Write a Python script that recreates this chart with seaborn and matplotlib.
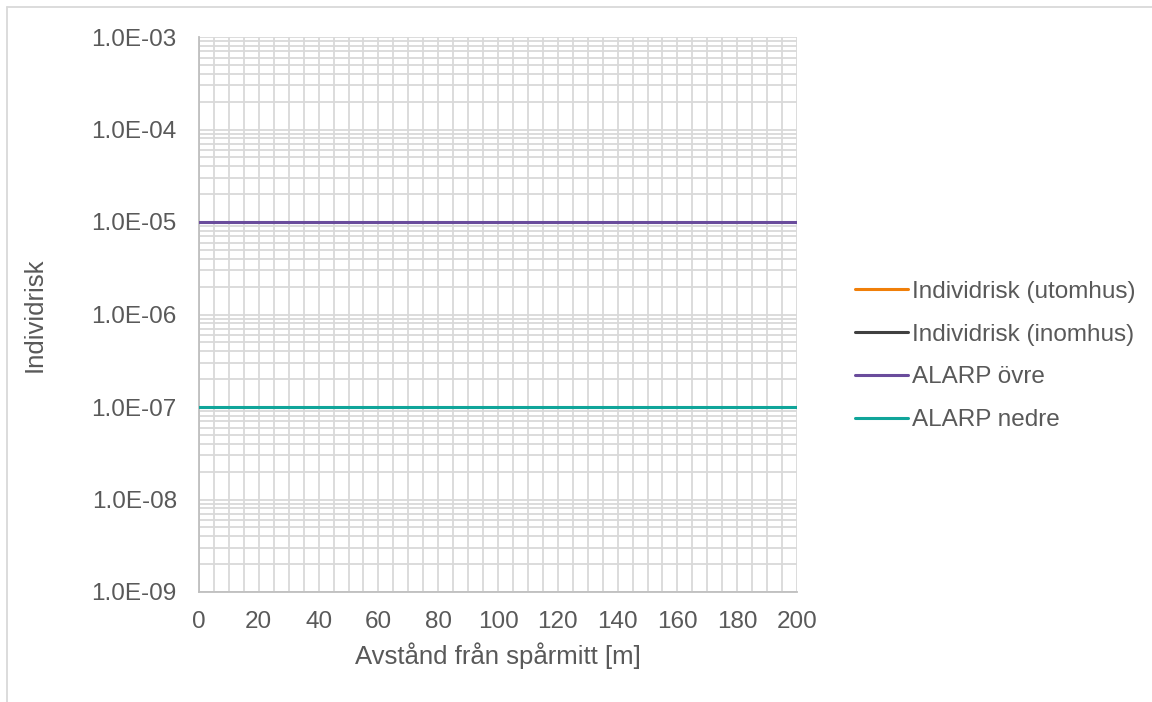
import numpy as np
import pandas as pd
import matplotlib
matplotlib.use("Agg")
import matplotlib.pyplot as plt
import seaborn as sns
from matplotlib.lines import Line2D
from matplotlib.ticker import FuncFormatter, MultipleLocator, LogLocator

# Data
series_names = ["Individrisk (utomhus)", "Individrisk (inomhus)", "ALARP övre", "ALARP nedre"]
series_colors = ["#F07F09", "#404040", "#6A4C9C", "#10A59A"]
distance = [0, 200]
alarp_upper = [1e-5, 1e-5]
alarp_lower = [1e-7, 1e-7]
# the two Individrisk series are not visible in the chart range
utomhus = []
inomhus = []

df = pd.DataFrame({
    "x": distance + distance,
    "y": alarp_upper + alarp_lower,
    "serie": ["ALARP övre"] * 2 + ["ALARP nedre"] * 2,
})

sns.set_style("white")
plt.rcParams["font.family"] = ["Liberation Sans", "DejaVu Sans"]
text_col = "#595959"
grid_col = "#D9D9D9"

fig = plt.figure(figsize=(11.52, 7.02), dpi=100)
ax = fig.add_axes([199 / 1152, 1 - 592 / 702, 598 / 1152, 555 / 702])

ax.plot(utomhus, utomhus, color=series_colors[0], lw=2.2)
ax.plot(inomhus, inomhus, color=series_colors[1], lw=2.2)
sns.lineplot(data=df, x="x", y="y", hue="serie",
             palette={"ALARP övre": series_colors[2], "ALARP nedre": series_colors[3]},
             lw=2.2, legend=False, ax=ax, zorder=3)

ax.set_yscale("log")
ax.set_ylim(1e-9, 1e-3)
ax.set_xlim(0, 200)
ax.xaxis.set_major_locator(MultipleLocator(20))
ax.xaxis.set_minor_locator(MultipleLocator(5))
ax.yaxis.set_major_locator(LogLocator(base=10, numticks=10))
ax.yaxis.set_minor_locator(LogLocator(base=10, subs=np.arange(2, 10), numticks=100))
ax.yaxis.set_major_formatter(FuncFormatter(lambda v, p: "{:.1E}".format(v)))
ax.yaxis.set_minor_formatter(FuncFormatter(lambda v, p: ""))

ax.grid(True, which="both", color=grid_col, lw=1.3)
ax.set_axisbelow(True)
ax.tick_params(which="both", length=0, labelsize=17.5, colors=text_col)
ax.tick_params(axis="x", pad=14)
ax.tick_params(axis="y", pad=16)
for s in ["top", "right"]:
    ax.spines[s].set_visible(False)
for s in ["left", "bottom"]:
    ax.spines[s].set_color("#BFBFBF")
    ax.spines[s].set_linewidth(1.3)

ax.set_xlabel("Avstånd från spårmitt [m]", fontsize=18.5, color=text_col, va="center")
ax.set_ylabel("Individrisk", fontsize=18.5, color=text_col, va="center")
ax.xaxis.set_label_coords(0.5, (592 - 656) / 555)
ax.yaxis.set_label_coords((35 - 199) / 598, 0.5)

handles = [Line2D([], [], color=c, lw=2.2) for c in series_colors]
leg = fig.legend(handles, series_names, loc="center left",
                 bbox_to_anchor=(855 / 1152, 1 - 356 / 702), borderaxespad=0, borderpad=0,
                 frameon=False, fontsize=17.5, handlelength=2.17, handletextpad=0.17,
                 labelspacing=0.86)
for t in leg.get_texts():
    t.set_color(text_col)

# outer chart border
fig.add_artist(Line2D([7 / 1152, 7 / 1152], [0, 1 - 7 / 702], color="#D9D9D9", lw=1.3))
fig.add_artist(Line2D([7 / 1152, 1], [1 - 7 / 702, 1 - 7 / 702], color="#D9D9D9", lw=1.3))

fig.savefig("out.png", dpi=100)
